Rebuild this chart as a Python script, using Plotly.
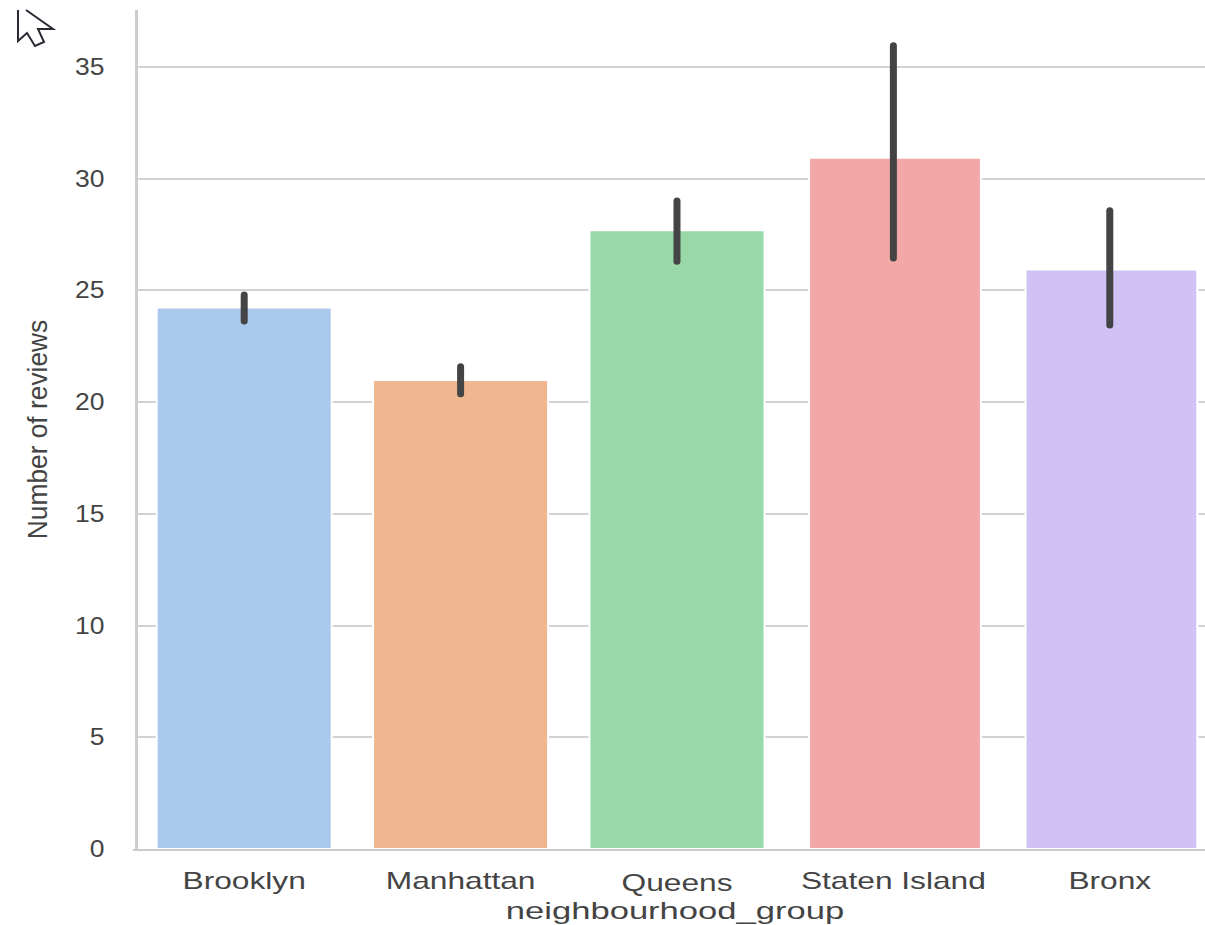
import plotly.graph_objects as go

categories = ["Brooklyn", "Manhattan", "Queens", "Staten Island", "Bronx"]
values = [24.24, 20.99, 27.69, 30.94, 25.94]
ci_low = [23.63, 20.37, 26.3, 26.45, 23.45]
ci_high = [24.8, 21.58, 29.0, 35.95, 28.56]
colors = ["#abc9ec", "#f0b690", "#99d8a8", "#f2a8a6", "#d0c2f5"]
bar_widths = [0.809, 0.809, 0.809, 0.794, 0.794]
bar_offsets = [-0.4045, -0.4045, -0.4045, -0.3895, -0.3895]
y_ticks = [0, 5, 10, 15, 20, 25, 30, 35]
x_title = "neighbourhood_group"
y_title = "Number of reviews"

FONT = "Liberation Sans, Arial, sans-serif"
TEXT = "#444444"
L, R, T, B = 136, 0, 10, 76
W, H = 1205, 925


def px(x, y):
    return f"{(x - L) / (W - L - R):.5f},{(H - B - y) / (H - T - B):.5f}"


cursor = [(18, 10), (18, 41), (27, 33), (35, 46), (44, 42), (38, 29), (53, 29), (26, 10)]
cursor_path = "M" + " L".join(px(*p).replace(",", " ") for p in cursor)

fig = go.Figure()
fig.add_trace(go.Bar(
    x=categories, y=values, width=bar_widths, offset=bar_offsets,
    marker=dict(color=colors, line=dict(width=2, color="white")),
    showlegend=False,
))
for c, lo, hi in zip(categories, ci_low, ci_high):
    fig.add_trace(go.Scatter(
        x=[c, c], y=[lo, hi], mode="lines",
        line=dict(color="#444444", width=7), showlegend=False,
    ))

fig.update_layout(
    width=W, height=H,
    margin=dict(l=L, r=R, t=T, b=B),
    paper_bgcolor="white", plot_bgcolor="white",
    font=dict(family=FONT, color=TEXT, size=22),
    xaxis=dict(
        type="category", categoryorder="array", categoryarray=categories,
        range=[-0.5, 4.44], showgrid=False, ticks="", showline=True,
        linecolor="#cccccc", linewidth=2, tickfont=dict(size=24),
        ticklabelstandoff=9,
        title=dict(text=x_title, font=dict(size=24), standoff=9),
    ),
    yaxis=dict(
        range=[0, 37.55], tickvals=y_ticks, showgrid=True, gridcolor="#d2d2d2", gridwidth=2,
        showline=True, linecolor="#cccccc", linewidth=3, ticks="", zeroline=False,
        tickfont=dict(size=23), ticklabelstandoff=24,
        title=dict(text=y_title, font=dict(size=28), standoff=24),
    ),
    shapes=[dict(
        type="path", xref="paper", yref="paper", path=cursor_path,
        line=dict(color="#2a2a35", width=2), fillcolor="white", layer="above",
    )],
)

post = """
var gd = document.querySelector('.plotly-graph-div');
function stretch(sel, f) {
  gd.querySelectorAll(sel).forEach(function (t) {
    var n = t.getComputedTextLength();
    t.setAttribute('textLength', n * f);
    t.setAttribute('lengthAdjust', 'spacingAndGlyphs');
  });
}
stretch('.xtick text', 1.32);
stretch('.ytick text', 1.15);
stretch('.xtitle', 1.44);
stretch('.ytitle', 0.94);
var xt = gd.querySelector('.xtitle');
xt.setAttribute('x', 675);
gd.querySelectorAll('.xtick text').forEach(function (t) {
  if (t.textContent === 'Queens') {
    t.setAttribute('y', parseFloat(t.getAttribute('y')) + 2);
  }
});
gd.querySelectorAll('.ylines-above').forEach(function (p) {
  p.setAttribute('transform', 'translate(2,0)');
});
gd.querySelectorAll('.scatterlayer .js-line').forEach(function (p) {
  p.style.strokeLinecap = 'round';
});
"""
fig.write_html("out.html", config={"displayModeBar": False},
               post_script="document.body.style.margin='0';" + post)
